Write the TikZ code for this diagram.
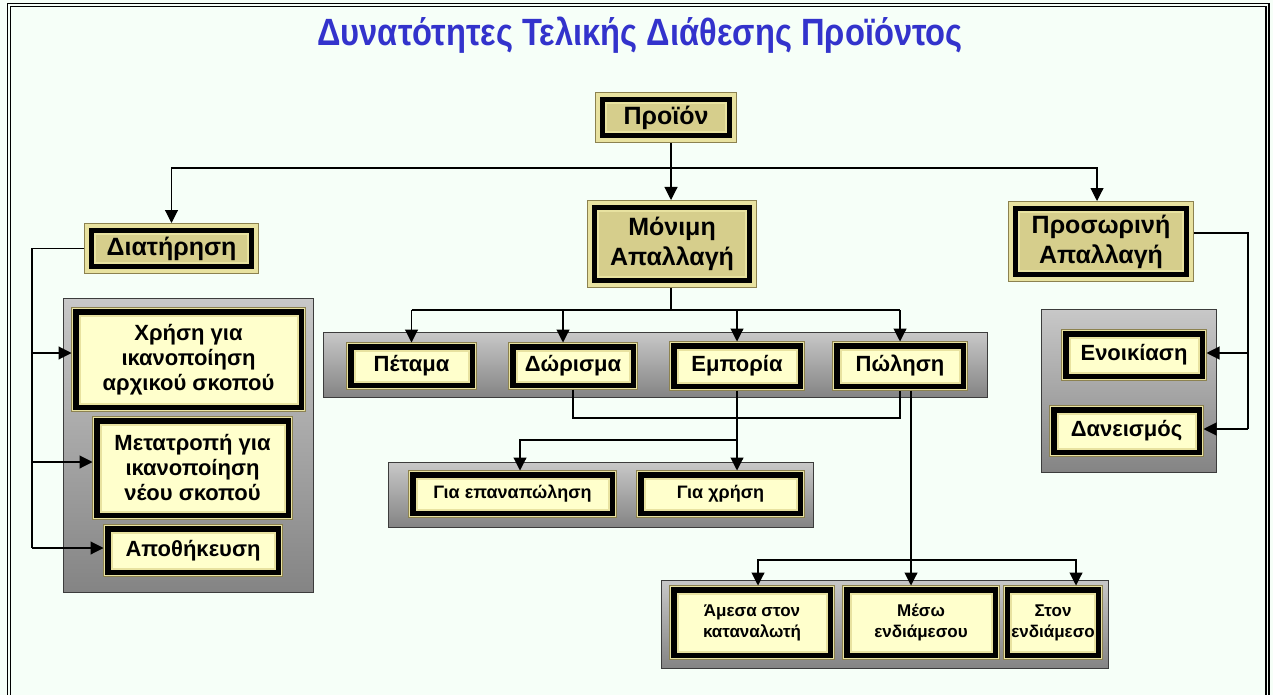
\documentclass[tikz,border=0pt]{standalone}
\usepackage{fontspec}
\usepackage{graphicx}
\setmainfont{Liberation Sans}
\usetikzlibrary{arrows.meta}
\definecolor{bg}{RGB}{246,255,248}
\definecolor{cream}{RGB}{255,255,204}
\definecolor{khaki}{RGB}{232,226,160}
\definecolor{khakid}{RGB}{140,130,80}
\definecolor{tanc}{RGB}{214,206,140}
\definecolor{tanl}{RGB}{248,246,200}
\definecolor{ttl}{RGB}{51,51,204}
\definecolor{pantop}{RGB}{200,200,200}
\definecolor{panbot}{RGB}{132,132,132}
\definecolor{panedge}{RGB}{60,60,60}
\tikzset{
  cbox/.style={rectangle, fill=cream, draw=khaki, line width=2pt, outer sep=8pt,
    inner sep=0pt, align=center, font=\bfseries\fontsize{22}{25}\selectfont,
    preaction={draw=khakid, line width=17pt},
    preaction={draw=khaki, line width=15pt},
    preaction={draw=black, line width=13pt}},
  gbox/.style={rectangle, top color=tanc, middle color=tanl, bottom color=tanc,
    draw=khaki, line width=2pt, outer sep=11pt,
    inner sep=0pt, align=center, font=\bfseries\fontsize{25}{30}\selectfont,
    preaction={draw=khakid, line width=22pt},
    preaction={draw=khaki, line width=20pt},
    preaction={draw=black, line width=12pt}},
  panel/.style={draw=panedge, line width=1pt, top color=pantop, bottom color=panbot},
  con/.style={draw=black, line width=1.1pt},
  arr/.style={con, -{Triangle[width=13pt,length=13pt]}},
  border/.style={draw=black, line width=1.4pt},
}
\begin{document}
\begin{tikzpicture}[x=1pt,y=-1pt]
\fill[bg] (0,0) rectangle (1273,695);
\useasboundingbox (0,0) rectangle (1273,695);
% frame
\draw[border] (7.5,695) -- (7.5,3.5) -- (1269,3.5) -- (1269,695);
\draw[border] (10.5,695) -- (10.5,6.5) -- (1266,6.5) -- (1266,695);
% title
\node[font=\bfseries\fontsize{38}{44}\selectfont, text=ttl] (title) at (640,35)
  {\scalebox{0.86}[1]{Δυνατότητες Τελικής Διάθεσης Προϊόντος}};
% panels
\draw[panel] (63,298) rectangle (313,592);
\draw[panel] (323,332) rectangle (987,397);
\draw[panel] (388,462) rectangle (813,527);
\draw[panel] (661,580) rectangle (1108,668);
\draw[panel] (1041,309) rectangle (1216,472);
% top-level boxes
\node[gbox, minimum width=120pt, minimum height=29pt] (prod) at (666,118) {Προϊόν};
\node[gbox, minimum width=153pt, minimum height=29pt] (dia) at (171.5,248.5) {Διατήρηση};
\node[gbox, minimum width=148pt, minimum height=66pt] (mon) at (672,244) {Μόνιμη\\Απαλλαγή};
\node[gbox, minimum width=164pt, minimum height=59pt] (pros) at (1101,241.5) {Προσωρινή\\Απαλλαγή};
% left column
\node[cbox, minimum width=218pt, minimum height=88pt] (xrisi) at (188.5,359.5) {Χρήση για\\ικανοποίηση\\αρχικού σκοπού};
\node[cbox, minimum width=184pt, minimum height=87pt] (meta) at (192.5,468) {Μετατροπή για\\ικανοποίηση\\νέου σκοπού};
\node[cbox, minimum width=163pt, minimum height=36pt] (apoth) at (193,550.5) {Αποθήκευση};
% middle row
\node[cbox, minimum width=114pt, minimum height=31pt] (petama) at (411.5,366) {Πέταμα};
\node[cbox, minimum width=113pt, minimum height=31pt] (dor) at (573,366) {Δώρισμα};
\node[cbox, minimum width=119pt, minimum height=33pt] (emp) at (737,366) {Εμπορία};
\node[cbox, minimum width=119pt, minimum height=33pt] (pol) at (900,366) {Πώληση};
% lower middle
\node[cbox, minimum width=192pt, minimum height=31pt, font=\bfseries\fontsize{18}{22}\selectfont] (gep) at (512.5,494) {Για επαναπώληση};
\node[cbox, minimum width=152pt, minimum height=31pt, font=\bfseries\fontsize{18}{22}\selectfont] (gxr) at (720.5,494) {Για χρήση};
% bottom
\node[cbox, minimum width=149pt, minimum height=58pt, font=\bfseries\fontsize{17}{21}\selectfont] (amesa) at (752,622.5) {Άμεσα στον\\καταναλωτή};
\node[cbox, minimum width=141pt, minimum height=58pt, font=\bfseries\fontsize{17}{21}\selectfont] (meso) at (921,622.5) {Μέσω\\ενδιάμεσου};
\node[cbox, minimum width=77pt, minimum height=58pt, font=\bfseries\fontsize{17}{21}\selectfont] (ston) at (1053,622.5) {Στον\\ενδιάμεσο};
% right column
\node[cbox, minimum width=129pt, minimum height=35pt] (enoik) at (1134,355) {Ενοικίαση};
\node[cbox, minimum width=138pt, minimum height=35pt] (dan) at (1126.5,431) {Δανεισμός};
% connectors: top
\coordinate (j) at (671,168);
\draw[arr] ([xshift=5pt]prod.south) -- ([xshift=5pt]prod.south |- mon.north);
\draw[arr] (j) -| (dia.north);
\draw[arr] (j) -| ([xshift=-4pt]pros.north);
% left
\coordinate (lv) at (32,248.5);
\draw[con] (dia.west) -- (lv) -- (32,548);
\draw[arr] (32,353) -- (xrisi.west |- 0,353);
\draw[arr] (32,462) -- (meta.west |- 0,462);
\draw[arr] (32,548) -- (apoth.west |- 0,548);
% right
\coordinate (rv) at (1248,233);
\draw[con] ([yshift=8.5pt]pros.east) -- (rv) -- (1248,429);
\draw[arr] (1248,353) -- (enoik.east |- 0,353);
\draw[arr] (1248,429) -- (dan.east |- 0,429);
% middle
\coordinate (mj) at (671,310);
\draw[con] ([xshift=-1pt]mon.south) -- (mj);
\draw[con] (411.5,310) -- (900,310);
\draw[arr] (petama.north |- mj) -- (petama.north);
\draw[arr] ([xshift=-10pt]dor.north |- mj) -- ([xshift=-10pt]dor.north);
\draw[arr] (emp.north |- mj) -- (emp.north);
\draw[arr] (pol.north |- mj) -- (pol.north);
\draw[con] (dor.south) |- (pol.south |- 0,418) -- (pol.south);
% Εμπορία
\draw[arr] (emp.south) -- (emp.south |- gxr.north);
\draw[arr] (emp.south |- 0,440) -| ([xshift=7.5pt]gep.north);
% Πώληση
\draw[arr] ([xshift=11pt]pol.south) -- ([xshift=11pt]pol.south |- meso.north);
\draw[arr] (911,560) -| ([xshift=6pt]amesa.north);
\draw[arr] (911,560) -| ([xshift=23pt]ston.north);
\end{tikzpicture}
\end{document}
